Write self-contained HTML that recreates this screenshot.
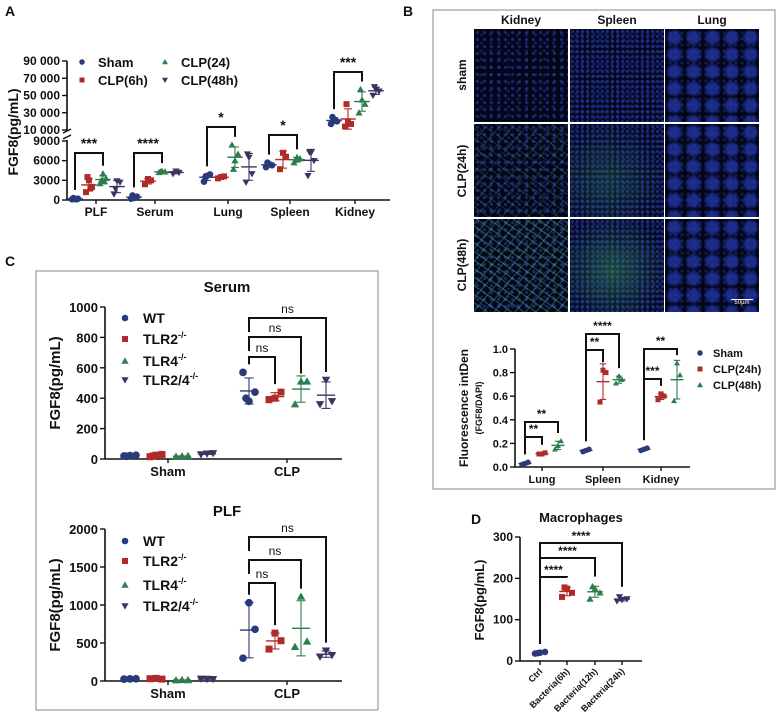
<!DOCTYPE html>
<html><head><meta charset="utf-8">
<style>
html,body{margin:0;padding:0;background:#fff;}
#wrap{position:relative;width:777px;height:723px;overflow:hidden;font-family:"Liberation Sans",Arial,sans-serif;}
svg{position:absolute;left:0;top:0;}
.mic{position:absolute;width:94px;height:93px;background-color:#04071a;
background-image:radial-gradient(circle,rgba(50,75,200,.55) 1px,transparent 2px),radial-gradient(circle,rgba(40,60,180,.45) 1px,transparent 2px);
background-size:7px 7px,9px 8px;background-position:0 0,3px 2px;}
.lung{background-color:#03061a;background-image:radial-gradient(circle,rgba(35,55,170,.75) 5px,transparent 9px),radial-gradient(circle,rgba(40,60,170,.4) 1px,transparent 2px);background-size:19px 17px,6px 6px;background-position:0 0,2px 1px;}
.spl{background-image:radial-gradient(circle,rgba(40,65,190,.6) 1.2px,transparent 2px),radial-gradient(circle,rgba(35,55,170,.5) 1.1px,transparent 2px);background-size:5px 5px,6px 6px;}
.g1::after,.g2::after{content:"";position:absolute;inset:0;background-image:repeating-linear-gradient(35deg,rgba(70,190,110,.25) 0 1px,transparent 1px 8px),repeating-linear-gradient(-50deg,rgba(70,190,110,.22) 0 1px,transparent 1px 10px);}
.g2::after{background-image:repeating-linear-gradient(35deg,rgba(80,200,120,.38) 0 1.2px,transparent 1.2px 7px),repeating-linear-gradient(-50deg,rgba(80,200,120,.33) 0 1.2px,transparent 1.2px 8px);}
.gs::after{content:"";position:absolute;inset:0;background:radial-gradient(ellipse at 40% 60%,rgba(50,140,80,.3),transparent 70%);}
.gs2::after{content:"";position:absolute;inset:0;background:radial-gradient(ellipse at 45% 55%,rgba(60,170,90,.4),transparent 75%);}
</style></head>
<body>
<div id="wrap">
<svg id="fig" width="777" height="723" viewBox="0 0 777 723"></svg>
<div class="mic" style="left:474px;top:29px"></div>
<div class="mic spl" style="left:570px;top:29px"></div>
<div class="mic lung" style="left:665px;top:29px"></div>
<div class="mic g1" style="left:474px;top:124px"></div>
<div class="mic spl gs" style="left:570px;top:124px"></div>
<div class="mic lung" style="left:665px;top:124px"></div>
<div class="mic g2" style="left:474px;top:219px"></div>
<div class="mic spl gs2" style="left:570px;top:219px"></div>
<div class="mic lung" style="left:665px;top:219px"><div style="position:absolute;right:6px;bottom:6px;width:22px;border-top:1px solid #fff;color:#fff;font-size:6px;text-align:center">50µm</div></div>
</div>
<script>
// ---------- DATA ----------
const catsA = ["PLF","Serum","Lung","Spleen","Kidney"];
const groupsA = ["Sham","CLP(6h)","CLP(24)","CLP(48h)"];
const shamA = [[100,200,150,300,100],[200,500,300,700],[2800,3900,3700,3500],[5000,5300,5500,5700],[17000,20000,22000,25000]];
const clp6A = [[1200,2000,3000,3500,1800],[2400,3000,3200],[3300,3600,3500],[4700,6600,7200],[14000,17000,20000,40000]];
const clp24A = [[2500,3300,4000,3000,2800],[4200,4300,4400,4300],[8400,7000,6000,4700],[5700,6300,6500,6100],[30000,40000,45000,57000]];
const clp48A = [[900,2700,2900,1700],[4000,4200,4400],[2700,4000,6500,7000],[3700,6000,7200,7300],[50000,55000,57000,60000]];
const ticksAlow = [0,3000,6000,9000];
const ticksAhigh = [10000,30000,50000,70000,90000];
const catsB = ["Lung","Spleen","Kidney"];
const groupsB = ["Sham","CLP(24h)","CLP(48h)"];
const shamB = [[0.02,0.04,0.03],[0.13,0.15,0.14],[0.14,0.16,0.15]];
const clp24B = [[0.11,0.12,0.11],[0.55,0.80,0.82],[0.57,0.60,0.62]];
const clp48B = [[0.15,0.22,0.18],[0.71,0.74,0.77],[0.56,0.78,0.88]];
const ticksB = [0,0.2,0.4,0.6,0.8,1.0];
const catsC = ["Sham","CLP"];
const groupsC = ["WT","TLR2","TLR4","TLR2/4"];
const serumWT = [[20,25,22,18],[570,440,380,400]];
const serumTLR2 = [[15,30,25,20],[390,440,400]];
const serumTLR4 = [[15,20,18],[360,510,510]];
const serumTLR24 = [[30,38,35],[360,380,520]];
const plfWT = [[25,30,28],[300,680,1030]];
const plfTLR2 = [[30,25,35],[420,530,630]];
const plfTLR4 = [[10,12,14],[450,520,1110]];
const plfTLR24 = [[30,25,28],[320,340,400]];
const ticksSerum = [0,200,400,600,800,1000];
const ticksPLF = [0,500,1000,1500,2000];
const catsD = ["Ctrl","Bacteria(6h)","Bacteria(12h)","Bacteria(24h)"];
const valsD = [[18,22,20,19],[155,165,175,178],[150,165,175,180],[145,150,148,155]];
const ticksD = [0,100,200,300];

// ---------- HELPERS ----------
const NS='http://www.w3.org/2000/svg';
const svg=document.getElementById('fig');
const COLORS=['#2b3a7a','#b02a2a','#2e7d4f','#3a3463'];
const SHAPES=['circle','square','up','down'];
const JIT=[-1,1,0,-0.5,0.5];
function mk(tag,attrs,parent){const e=document.createElementNS(NS,tag);for(const k in attrs)e.setAttribute(k,attrs[k]);(parent||svg).appendChild(e);return e;}
function txt(x,y,s,opt){const e=mk('text',{x:x,y:y,'font-size':opt.size||12,'font-weight':opt.w||'bold','text-anchor':opt.anchor||'middle',fill:'#111','font-family':'Liberation Sans, Arial, sans-serif'});if(opt.rot)e.setAttribute('transform','rotate('+opt.rot+' '+x+' '+y+')');e.textContent=s;return e;}
function line(x1,y1,x2,y2,w,c){return mk('line',{x1:x1,y1:y1,x2:x2,y2:y2,stroke:c||'#111','stroke-width':w||1.6});}
function marker(shape,x,y,c,s){let e;
 if(shape==='circle')e=mk('circle',{cx:x,cy:y,r:s*0.55,fill:c});
 else if(shape==='square')e=mk('rect',{x:x-s/2,y:y-s/2,width:s,height:s,fill:c});
 else if(shape==='up')e=mk('polygon',{points:(x)+','+(y-s*0.6)+' '+(x-s*0.6)+','+(y+s*0.45)+' '+(x+s*0.6)+','+(y+s*0.45),fill:c});
 else e=mk('polygon',{points:(x)+','+(y+s*0.6)+' '+(x-s*0.6)+','+(y-s*0.45)+' '+(x+s*0.6)+','+(y-s*0.45),fill:c});
 return e;}
function mean(a){return a.reduce((p,q)=>p+q,0)/a.length;}
function sd(a){const m=mean(a);return Math.sqrt(a.reduce((p,q)=>p+(q-m)*(q-m),0)/(a.length-1));}
function group(vals,cx,ys,gi,s,spread){
 const m=mean(vals),d=sd(vals),c=COLORS[gi];
 vals.forEach((v,i)=>{const dx=JIT[i%JIT.length]*spread;const p=marker(SHAPES[gi],cx+dx,ys(v),c,s);
 
 });
 const hw=s*1.3;
 const e1=line(cx,ys(m+d),cx,ys(Math.max(m-d,0)),1.1,c);
 
 
 line(cx-hw*0.5,ys(m+d),cx+hw*0.5,ys(m+d),1.1,c);
 line(cx-hw*0.5,ys(Math.max(m-d,0)),cx+hw*0.5,ys(Math.max(m-d,0)),1.1,c);
 const e2=line(cx-hw,ys(m),cx+hw,ys(m),1.4,c);
 
 
}
function bracket(x1,x2,top,b1,b2,label,lab,bold,size){
 const g=mk('polyline',{points:x1+','+b1+' '+x1+','+top+' '+x2+','+top+' '+x2+','+b2,fill:'none',stroke:'#111','stroke-width':2});
 
 
 const t=txt((x1+x2)/2,lab,label,{size:size||13,w:bold?'bold':'normal'});
 
 
}
function maxOf(a){return Math.max.apply(null,a);}

// ---------- PANEL A ----------
txt(10,16,'A',{size:14,anchor:'middle'});
function yA(v){return v<=9000?200-v/9000*59:130-(v-10000)/80000*69;}
const cxA=[96,155,228,290,355], offA=[-21,-7,7,21];
const seriesA=[shamA,clp6A,clp24A,clp48A];
line(67,61,67,131,1.6);line(67,140,67,200,1.6);
line(63,133,71,129,1.4);line(63,139,71,135,1.4);
line(67,200,390,200,1.6);
ticksAlow.forEach(t=>{line(62,yA(t),67,yA(t),1.4);const e=txt(60,yA(t)+4,String(t),{size:12,anchor:'end'});});
ticksAhigh.forEach(t=>{line(62,yA(t),67,yA(t),1.4);const e=txt(60,yA(t)+4,t.toLocaleString('en-US').replace(',',' '),{size:12,anchor:'end'});});
const ytA=txt(18,132,'FGF8(pg/mL)',{size:14,rot:-90});
catsA.forEach((c,i)=>{line(cxA[i],200,cxA[i],204,1.4);const e=txt(cxA[i],216,c,{size:12});
 seriesA.forEach((s,g)=>group(s[i],cxA[i]+offA[g],yA,g,6,3));});
const legA=[[82,62],[82,80],[165,62],[165,80]];
groupsA.forEach((g,i)=>{const m=marker(SHAPES[i],legA[i][0],legA[i][1],COLORS[i],5);const e=txt(legA[i][0]+16,legA[i][1]+5,g,{size:13,anchor:'start'});});
const bA=[[0,2,153,'***'],[1,2,153,'****'],[2,2,127,'*'],[3,2,135,'*'],[4,2,72,'***']];
bA.forEach(b=>{const x1=cxA[b[0]]+offA[0],x2=cxA[b[0]]+offA[b[1]];
 const b1=Math.max(b[2]+8,yA(maxOf(shamA[b[0]]))-8),b2=Math.max(b[2]+8,yA(maxOf(clp24A[b[0]]))-8);
 bracket(x1,x2,b[2],b1,b2,b[3],b[2]-5,true,14);});

// ---------- PANEL B ----------
txt(408,16,'B',{size:14});
const boxB=mk('rect',{x:433,y:10,width:342,height:479,fill:'none',stroke:'#888','stroke-width':1});

[['Kidney',521],['Spleen',617],['Lung',712]].forEach(c=>{const e=txt(c[1],24,c[0],{size:12});});
[['sham',75],['CLP(24h)',171],['CLP(48h)',265]].forEach(r=>{const e=txt(466,r[1],r[0],{size:12,rot:-90});});
function yB(v){return 467-v*118;}
const cxB=[542,603,661],offB=[-17,0,16];
const seriesB=[shamB,clp24B,clp48B];
line(515,349,515,467,1.6);line(515,467,690,467,1.6);
ticksB.forEach(t=>{line(510,yB(t),515,yB(t),1.4);const e=txt(508,yB(t)+4,t.toFixed(1),{size:11,anchor:'end'});});
txt(468,408,'Fluorescence intDen',{size:12,rot:-90});
txt(482,408,'(FGF8/DAPI)',{size:9,rot:-90});
catsB.forEach((c,i)=>{line(cxB[i],467,cxB[i],471,1.4);const e=txt(cxB[i],483,c,{size:11});
 seriesB.forEach((s,g)=>group(s[i],cxB[i]+offB[g],yB,g,5,3));});
groupsB.forEach((g,i)=>{const y=353+i*16;const m=marker(SHAPES[i],700,y,COLORS[i],5);const e=txt(713,y+4,g,{size:11,anchor:'start'});});
const bB=[[0,1,437,'**'],[0,2,422,'**'],[1,1,350,'**'],[1,2,334,'****'],[2,1,379,'***'],[2,2,349,'**']];
bB.forEach(b=>{const x1=cxB[b[0]]+offB[0],x2=cxB[b[0]]+offB[b[1]];const s=seriesB[b[1]][b[0]];
 const b1=yB(maxOf(shamB[b[0]]))-8,b2=Math.max(b[2]+6,yB(maxOf(s))-8);
 bracket(x1,x2,b[2],b1,b2,b[3],b[2]-4,true,12);});

// ---------- PANEL C ----------
txt(10,266,'C',{size:14});
const boxC=mk('rect',{x:36,y:271,width:342,height:439,fill:'none',stroke:'#888','stroke-width':1});

function panelC(title,titleY,yTop,y0,maxV,ticks,series,brk,legY){
 const ys=v=>y0-v/maxV*(y0-yTop);
 const cx=[168,287],off=[-38,-12,14,39];
 const tt=txt(227,titleY,title,{size:15});
 line(105,yTop,105,y0,1.6);line(105,y0,342,y0,1.6);
 ticks.forEach(t=>{line(100,ys(t),105,ys(t),1.4);const e=txt(98,ys(t)+5,String(t),{size:13,anchor:'end'});});
 const yt=txt(60,(yTop+y0)/2,'FGF8(pg/mL)',{size:15,rot:-90});
 catsC.forEach((c,i)=>{line(cx[i],y0,cx[i],y0+4,1.4);const e=txt(cx[i],y0+17,c,{size:13});
  series.forEach((s,g)=>group(s[i],cx[i]+off[g],ys,g,7,6));});
 groupsC.forEach((g,i)=>{const y=legY[i];const m=marker(SHAPES[i],125,y,COLORS[i],6);
  const e=txt(143,y+5,g,{size:14,anchor:'start'});
  if(i>0){const sp=mk('tspan',{'font-size':9,dy:-6},e);sp.textContent='-/-';}});
 brk.forEach((b,k)=>{const x1=cx[1]+off[0],x2=cx[1]+off[k+1];
  const b1=Math.min(b+14,ys(maxOf(series[0][1]))-8),b2=Math.max(b+8,ys(maxOf(series[k+1][1]))-8);
  bracket(x1,x2,b,b1,b2,'ns',b-5,false,12);});
}
panelC('Serum',292,307,459,1000,ticksSerum,[serumWT,serumTLR2,serumTLR4,serumTLR24],[357,337,318],[318,339,361,380]);
panelC('PLF',516,529,681,2000,ticksPLF,[plfWT,plfTLR2,plfTLR4,plfTLR24],[583,560,537],[541,561,585,606]);

// ---------- PANEL D ----------
txt(476,524,'D',{size:14});
const tD=txt(581,522,'Macrophages',{size:13});
function yD(v){return 661-v/300*124;}
const cxD=[540,567,595,622];
line(520,537,520,661,1.6);line(520,661,642,661,1.6);
ticksD.forEach(t=>{line(515,yD(t),520,yD(t),1.4);const e=txt(513,yD(t)+4,String(t),{size:12,anchor:'end'});});
const ytD=txt(484,600,'FGF8(pg/mL)',{size:13,rot:-90});
catsD.forEach((c,i)=>{line(cxD[i],661,cxD[i],665,1.4);const e=txt(cxD[i]+3,672,c,{size:9,anchor:'end',rot:-45});
 group(valsD[i],cxD[i],yD,i,6,5);});
[[1,577],[2,558],[3,543]].forEach(b=>{const b1=yD(maxOf(valsD[0]))-8,b2=yD(maxOf(valsD[b[0]]))-10;
 bracket(cxD[0],cxD[b[0]],b[1],b1,b2,'****',b[1]-3,true,12);});
</script>
</body></html>
